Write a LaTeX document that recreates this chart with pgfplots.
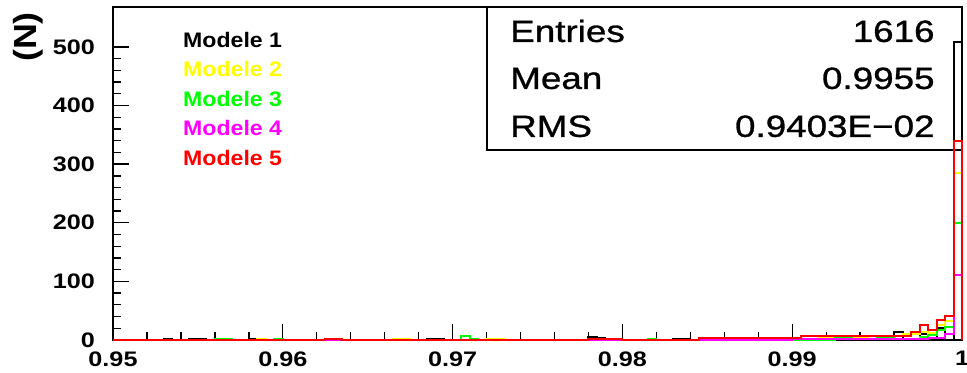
\documentclass[border=0pt]{standalone}
\usepackage{pgfplots}
\usepackage{pgfplotstable}
\pgfplotsset{compat=1.18}
\usepackage{fontspec}
\setmainfont{Liberation Sans}
\newfontfamily\tickfont[FakeStretch=1.2, UprightFont={* Bold}]{Liberation Sans}
\newfontfamily\legfont[FakeStretch=1.1, UprightFont={* Bold}]{Liberation Sans}
\newfontfamily\labfont[FakeStretch=1.12, UprightFont={* Bold}]{Liberation Sans}
\newfontfamily\statfont[FakeStretch=1.2, FakeBold=1]{Liberation Sans}
\definecolor{rblack}{RGB}{0,0,0}
\definecolor{ryellow}{RGB}{255,255,0}
\definecolor{rgreen}{RGB}{0,255,0}
\definecolor{rmagenta}{RGB}{255,0,255}
\definecolor{rred}{RGB}{255,0,0}

% bin left edges (bin width 0.0005), counts; listed only where the value changes
\pgfplotstableread{
x y
0.9500 0
0.9530 2
0.9535 0
0.9545 2
0.9555 0
0.9580 1
0.9590 0
0.9685 2
0.9695 0
0.9780 5
0.9785 3
0.9790 2
0.9795 0
0.9830 2
0.9840 0
0.9855 3
0.9860 0
0.9895 3
0.9900 0
0.9960 13
0.9965 0
0.9975 10
0.9980 0
0.9985 21
0.9990 0
0.9995 508
1.0000 508
1.0000 0
}\modA
\pgfplotstableread{
x y
0.9500 0
0.9585 2
0.9590 0
0.9665 1
0.9675 0
0.9720 2
0.9730 0
0.9860 2
0.9865 0
0.9915 5
0.9925 3
0.9935 4
0.9945 2
0.9955 5
0.9960 6
0.9965 10
0.9970 10
0.9975 14
0.9980 12
0.9985 25
0.9990 33
0.9995 285
1.0000 285
1.0000 0
}\modB
\pgfplotstableread{
x y
0.9500 0
0.9560 2
0.9570 0
0.9595 2
0.9600 0
0.9705 7
0.9710 2
0.9715 0
0.9815 2
0.9820 0
0.9870 2
0.9875 0
0.9925 3
0.9935 2
0.9950 3
0.9960 2
0.9975 5
0.9980 8
0.9985 17
0.9990 23
0.9995 200
1.0000 200
1.0000 0
}\modC
\pgfplotstableread{
x y
0.9500 0
0.9900 1
0.9960 2
0.9980 3
0.9990 10
0.9995 111
1.0000 111
1.0000 0
}\modD
\pgfplotstableread{
x y
0.9500 0
0.9625 1
0.9635 0
0.9780 1
0.9800 0
0.9845 3
0.9905 6
0.9965 7
0.9970 14
0.9975 26
0.9980 17
0.9985 34
0.9990 41
0.9995 340
1.0000 340
1.0000 0
}\modE

\begin{document}
\begin{tikzpicture}
\useasboundingbox (-84.75pt,-24.75pt) rectangle (640.5pt,255pt);
\begin{axis}[
  at={(0pt,0pt)}, anchor=south west,
  scale only axis, width=636.75pt, height=249.75pt,
  xmin=0.95, xmax=1, ymin=0, ymax=568,
  xtick={0.95,0.96,0.97,0.98,0.99,1},
  xticklabels={0.95,0.96,0.97,0.98,0.99,1},
  ytick={0,100,200,300,400,500},
  yticklabels={0,100,200,300,400,500},
  minor x tick num=4, minor y tick num=4,
  tick align=inside, xtick pos=lower, ytick pos=lower,
  major tick length=12pt, minor tick length=6pt,
  every tick/.style={black, line width=1pt},
  axis line style={line width=1.4pt},
  /pgf/number format/assume math mode=true,
  ticklabel style={font=\tickfont\fontsize{15.75}{16}\selectfont},
  yticklabel style={xshift=-10pt},
  xticklabel style={yshift=-5pt},
  ylabel={\labfont\fontsize{24}{26}\selectfont (N)},
  ylabel style={at={(axis description cs:-0.1001,0.91)}, anchor=center, inner sep=0pt},
  legend style={at={(rel axis cs:0.0824,0.926)}, anchor=north west,
    draw=none, fill=none, inner sep=0pt, row sep=10.6pt, column sep=0pt,
    nodes={inner sep=0pt, text height=11.5pt, text depth=0pt},
    font=\legfont\fontsize{15.75}{16}\selectfont},
  legend image code/.code={},
  legend cell align=left,
  clip=false,
]
\draw[line width=1pt] (rel axis cs:0.4405,0.5706) rectangle (rel axis cs:1,1);
\node[anchor=base west, inner sep=0pt, font=\statfont\fontsize{23}{24}\selectfont] at (rel axis cs:0.4676,0.895) {Entries};
\node[anchor=base west, inner sep=0pt, font=\statfont\fontsize{23}{24}\selectfont] at (rel axis cs:0.4676,0.754) {Mean};
\node[anchor=base west, inner sep=0pt, font=\statfont\fontsize{23}{24}\selectfont] at (rel axis cs:0.4676,0.610) {RMS};
\node[anchor=base east, inner sep=0pt, font=\statfont\fontsize{23}{24}\selectfont] at (rel axis cs:0.968,0.895) {1616};
\node[anchor=base east, inner sep=0pt, font=\statfont\fontsize{23}{24}\selectfont] at (rel axis cs:0.968,0.754) {0.9955};
\node[anchor=base east, inner sep=0pt, font=\statfont\fontsize{23}{24}\selectfont] at (rel axis cs:0.968,0.610) {0.9403E−02};

\addplot[const plot mark left, rblack, line width=1.5pt, mark=none] table[x=x,y=y]{\modA};
\addlegendentry{\textcolor{rblack}{Modele 1}}
\addplot[const plot mark left, ryellow, line width=1.5pt, mark=none] table[x=x,y=y]{\modB};
\addlegendentry{\textcolor{ryellow}{Modele 2}}
\addplot[const plot mark left, rgreen, line width=1.5pt, mark=none] table[x=x,y=y]{\modC};
\addlegendentry{\textcolor{rgreen}{Modele 3}}
\addplot[const plot mark left, rmagenta, line width=1.5pt, mark=none] table[x=x,y=y]{\modD};
\addlegendentry{\textcolor{rmagenta}{Modele 4}}
\addplot[const plot mark left, rred, line width=1.5pt, mark=none] table[x=x,y=y]{\modE};
\addlegendentry{\textcolor{rred}{Modele 5}}
\end{axis}
\end{tikzpicture}
\end{document}
